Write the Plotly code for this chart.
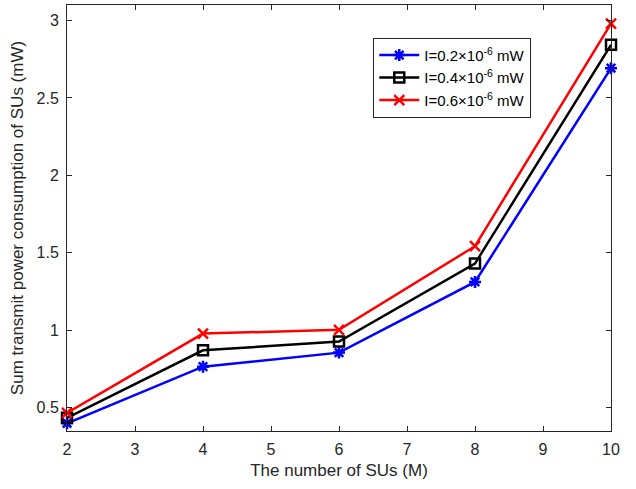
import plotly.graph_objects as go

x_vals = [2, 4, 6, 8, 10]
p_02 = [0.40, 0.765, 0.856, 1.312, 2.692]
p_04 = [0.435, 0.871, 0.927, 1.431, 2.843]
p_06 = [0.467, 0.979, 1.003, 1.543, 2.980]
names = ["I=0.2×10<sup>-6</sup> mW", "I=0.4×10<sup>-6</sup> mW", "I=0.6×10<sup>-6</sup> mW"]
colors = ["#0000FF", "#000000", "#FF0000"]
symbols = ["asterisk-open", "square-open", "x-thin-open"]
x_ticks = [2, 3, 4, 5, 6, 7, 8, 9, 10]
y_ticks = [0.5, 1, 1.5, 2, 2.5, 3]

fig = go.Figure()
for ys, nm, c, s in zip([p_02, p_04, p_06], names, colors, symbols):
    fig.add_trace(go.Scatter(
        x=x_vals, y=ys, name=nm, mode="lines+markers", cliponaxis=False,
        line=dict(color=c, width=2.5),
        marker=dict(symbol=s, size=10, color=c, line=dict(color=c, width=2.5)),
    ))

axis_common = dict(
    showline=True, linecolor="#262626", linewidth=1, mirror="ticks",
    ticks="inside", ticklen=5, tickcolor="#262626", showgrid=False, zeroline=False,
    automargin=False, ticklabelstandoff=4,
    tickfont=dict(family="Liberation Sans, Arial", size=16, color="#262626"),
)
fig.update_layout(
    width=636, height=489,
    margin=dict(l=67, r=25, t=5, b=58),
    paper_bgcolor="white", plot_bgcolor="white",
    font=dict(family="Liberation Sans, Arial", color="#262626"),
    xaxis=dict(range=[2, 10], tickvals=x_ticks,
               title=dict(text="The number of SUs (M)", font=dict(size=17), standoff=6),
               **axis_common),
    yaxis=dict(range=[0.35, 3.1], tickvals=y_ticks,
               title=dict(text="Sum transmit power consumption of SUs (mW)", font=dict(size=17), standoff=8),
               **axis_common),
    legend=dict(x=0.563, y=0.923, xanchor="left", yanchor="top",
                bordercolor="#262626", borderwidth=1, bgcolor="white",
                font=dict(size=15, color="#000000"), tracegroupgap=0, itemwidth=40),
    showlegend=True,
)
fig.write_html("out.html", config={"displayModeBar": False},
               post_script="document.body.style.margin='0';document.body.style.overflow='hidden';")
